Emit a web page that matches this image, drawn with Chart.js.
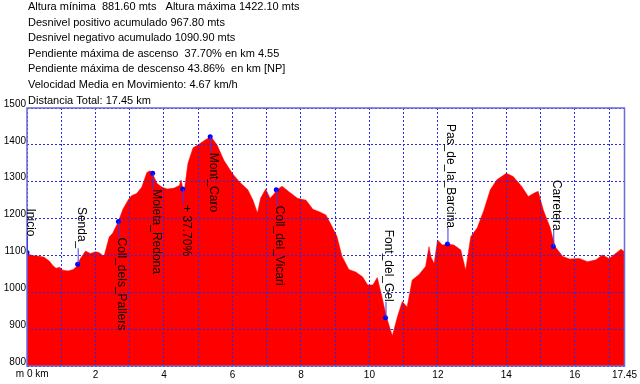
<!DOCTYPE html>
<html>
<head>
<meta charset="utf-8">
<script src="https://cdn.jsdelivr.net/npm/chart.js@4.4.0/dist/chart.umd.min.js"></script>
<style>
    html, body { margin: 0; padding: 0; background: #ffffff; }
    #wrap { width: 640px; height: 384px; }
</style>
</head>
<body>
<div id="wrap"><canvas id="profile-chart" width="640" height="384"></canvas></div>
<script>
// Perfil: distancia (km) / altura (m)
const distanceKm = [
    0.00, 0.15, 0.37, 0.50, 0.65, 0.76, 0.85, 0.95, 1.05, 1.20, 1.35, 1.47, 1.55, 1.71, 1.85, 2.00,
    2.10, 2.25, 2.40, 2.50, 2.66, 2.80, 2.95, 3.05, 3.20, 3.35, 3.50, 3.60, 3.66, 3.80, 3.95, 4.10,
    4.30, 4.45, 4.50, 4.55, 4.60, 4.70, 4.85, 5.00, 5.20, 5.37, 5.55, 5.75, 6.00, 6.20, 6.45, 6.60,
    6.73, 6.82, 6.97, 7.10, 7.20, 7.30, 7.45, 7.65, 7.90, 8.15, 8.35, 8.55, 8.73, 8.90, 9.05, 9.20,
    9.40, 9.60, 9.80, 9.95, 10.10, 10.23, 10.35, 10.50, 10.67, 10.82, 10.96, 11.10, 11.25, 11.45, 11.64, 11.74,
    11.80, 11.89, 11.99, 12.13, 12.30, 12.47, 12.67, 12.81, 12.96, 13.15, 13.34, 13.53, 13.72, 14.00, 14.20, 14.45,
    14.64, 14.83, 14.93, 15.08, 15.28, 15.42, 15.65, 15.85, 16.13, 16.37, 16.62, 16.80, 17.00, 17.20, 17.35, 17.45
];
const altitudeM = [
    1105, 1100, 1098, 1095, 1085, 1072, 1065, 1068, 1060, 1058, 1062, 1072, 1090, 1112, 1105, 1110,
    1108, 1098, 1150, 1160, 1190, 1225, 1250, 1262, 1268, 1285, 1325, 1330, 1323, 1295, 1285, 1280,
    1283, 1290, 1305, 1282, 1280, 1350, 1392, 1400, 1413, 1422, 1400, 1358, 1322, 1300, 1278, 1250,
    1215, 1255, 1280, 1255, 1265, 1278, 1288, 1273, 1255, 1250, 1225, 1218, 1210, 1180, 1152, 1098,
    1062, 1055, 1042, 1020, 1020, 1040, 995, 932, 882, 934, 975, 960, 1033, 1048, 1070, 1124,
    1095, 1078, 1142, 1128, 1131, 1128, 1115, 1060, 1151, 1175, 1222, 1278, 1305, 1323, 1314, 1287,
    1260, 1270, 1274, 1223, 1175, 1124, 1097, 1090, 1092, 1083, 1088, 1101, 1092, 1106, 1117, 1110
];

// Waypoints
const waypointKm = [0.00, 1.48, 2.67, 3.67, 4.55, 5.35, 7.28, 10.47, 12.28, 15.37];
const waypointAlt = [1108, 1076, 1192, 1323, 1280, 1422, 1278, 931, 1131, 1124];
const waypointNames = ["Inicio", "Senda_", "Coll_dels_Pallers", "Moleta_Redona", "+ 37.70%",
    "Mont_Caro", "Coll_del_Vicari", "Font_del_Gel", "Pas_de_la_Barcina", "Carretera"];
const waypointAbove = [true, true, false, false, false, false, false, true, true, true];

// Ejes
const altitudeTicks = [800, 900, 1000, 1100, 1200, 1300, 1400, 1500];
const distanceTicks = [0, 1, 2, 3, 4, 5, 6, 7, 8, 9, 10, 11, 12, 13, 14, 15, 16, 17, 17.45];
const distanceLabels = ["", "", "2", "", "4", "", "6", "", "8", "", "10", "", "12", "", "14", "", "16", "", "17.45"];
const firstDistanceLabel = "0 km";
const altitudeUnit = "m";

const summaryLines = [
    "Altura mínima  881.60 mts   Altura máxima 1422.10 mts",
    "Desnivel positivo acumulado 967.80 mts",
    "Desnivel negativo acumulado 1090.90 mts",
    "Pendiente máxima de ascenso  37.70% en km 4.55",
    "Pendiente máxima de descenso 43.86%  en km [NP]",
    "Velocidad Media en Movimiento: 4.67 km/h",
    "Distancia Total: 17.45 km"
];

const FONT = "'Liberation Sans', Arial, sans-serif";
const GRID_BLUE = "#2b2be0";

// summary text, plot frame and waypoint labels
const overlayPlugin = {
    id: "overlay",
    afterDraw(chart) {
        const ctx = chart.ctx;
        const area = chart.chartArea;
        const xs = chart.scales.x;
        const ys = chart.scales.y;

        ctx.save();
        ctx.strokeStyle = "#6a6ad8";
        ctx.lineWidth = 1.5;
        ctx.strokeRect(area.left, area.top, area.right - area.left, area.bottom - area.top);

        ctx.fillStyle = "#000000";
        ctx.font = "11px " + FONT;
        ctx.textAlign = "left";
        ctx.textBaseline = "middle";
        summaryLines.forEach((line, i) => {
            ctx.fillText(line, 28, 7 + i * 15.6);
        });

        // first distance label sits to the right of its tick, unit to the left
        const x0 = xs.getPixelForValue(distanceTicks[0]);
        ctx.font = "10px " + FONT;
        ctx.fillText(firstDistanceLabel, x0, area.bottom + 8);
        ctx.textAlign = "right";
        ctx.fillText(altitudeUnit, x0 - 3, area.bottom + 8);

        ctx.font = "12px " + FONT;
        waypointKm.forEach((km, i) => {
            const px = xs.getPixelForValue(km);
            const py = ys.getPixelForValue(waypointAlt[i]);
            const w = ctx.measureText(waypointNames[i]).width;
            const gap = 16;
            const start = waypointAbove[i] ? py - gap - w : py + gap;

            ctx.strokeStyle = "#3a3af0";
            ctx.lineWidth = 1;
            ctx.beginPath();
            ctx.moveTo(px + 0.5, py);
            ctx.lineTo(px + 0.5, waypointAbove[i] ? py - gap : py + gap);
            ctx.stroke();

            ctx.save();
            ctx.translate(px, start);
            ctx.rotate(Math.PI / 2);
            ctx.textAlign = "left";
            ctx.textBaseline = "alphabetic";
            ctx.fillStyle = "#000000";
            ctx.fillText(waypointNames[i], 0, 0);
            ctx.restore();
        });
        ctx.restore();
    }
};

const canvas = document.getElementById("profile-chart");

new Chart(canvas, {
    type: "line",
    data: {
        datasets: [
            {
                type: "scatter",
                data: waypointKm.map((km, i) => ({ x: km, y: waypointAlt[i] })),
                pointRadius: 2.5,
                pointBackgroundColor: "#0000ff",
                pointBorderWidth: 0,
                order: 1,
            },
            {
                data: distanceKm.map((km, i) => ({ x: km, y: altitudeM[i] })),
                fill: "start",
                backgroundColor: "#ff0000",
                borderColor: "#ff0000",
                borderWidth: 0.5,
                pointRadius: 0,
                tension: 0,
                order: 2,
            },
        ],
    },
    options: {
        responsive: false,
        animation: false,
        layout: {
            padding: { top: 108, right: 15, left: 0, bottom: 0 },
        },
        plugins: {
            legend: { display: false },
            tooltip: { enabled: false },
        },
        scales: {
            x: {
                type: "linear",
                min: 0,
                max: 17.45,
                afterBuildTicks: (axis) => {
                    axis.ticks = distanceTicks.map((v) => ({ value: v }));
                },
                afterFit: (axis) => {
                    axis.height = 18;
                },
                grid: {
                    color: GRID_BLUE,
                    lineWidth: 1,
                    drawTicks: false,
                    borderDash: [2, 2],
                    z: 1,
                },
                border: { display: false, dash: [2, 2] },
                ticks: {
                    callback: (value, index) => distanceLabels[index],
                    autoSkip: false,
                    maxRotation: 0,
                    padding: 3,
                    color: "#000000",
                    font: { family: FONT, size: 10 },
                },
            },
            y: {
                min: 800,
                max: 1500,
                afterBuildTicks: (axis) => {
                    axis.ticks = altitudeTicks.map((v) => ({ value: v }));
                },
                afterFit: (axis) => {
                    axis.width = 27;
                },
                grid: {
                    color: GRID_BLUE,
                    lineWidth: 1,
                    drawTicks: false,
                    borderDash: [2, 2],
                    z: 1,
                },
                border: { display: false, dash: [2, 2] },
                ticks: {
                    callback: (value) => String(value),
                    padding: 1,
                    labelOffset: -4,
                    color: "#000000",
                    font: { family: FONT, size: 10 },
                },
            },
        },
    },
    plugins: [overlayPlugin],
});
</script>
</body>
</html>
